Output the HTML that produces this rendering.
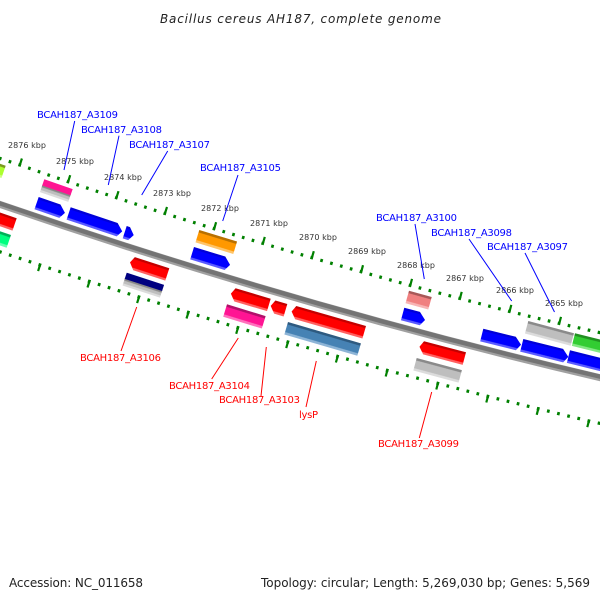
<!DOCTYPE html>
<html><head><meta charset="utf-8"><style>
html,body{margin:0;padding:0;background:#fff}
svg{display:block}
text{font-family:"DejaVu Sans","Liberation Sans",sans-serif}
.b{font-size:10px;fill:#00f}.r{font-size:10px;fill:#f00}.k{font-size:8px;fill:#333}
.t{stroke:#008000;stroke-width:2.2;fill:none}
.d{stroke:#008000;stroke-width:3.2;fill:none;stroke-dasharray:.26 .74;stroke-dashoffset:.13}
</style></head><body>
<svg width="600" height="600" viewBox="0 0 600 600" xmlns="http://www.w3.org/2000/svg">
<defs>
<linearGradient id="blue" x1="0" y1="0" x2="0" y2="1"><stop offset=".15" stop-color="#0000d8"/><stop offset=".2" stop-color="#00f"/><stop offset=".8" stop-color="#00f"/><stop offset=".85" stop-color="#5a5aff"/></linearGradient>
<linearGradient id="red" x1="0" y1="0" x2="0" y2="1"><stop offset=".15" stop-color="#c40000"/><stop offset=".2" stop-color="#f00"/><stop offset=".8" stop-color="#f00"/><stop offset=".85" stop-color="#ff6060"/></linearGradient>
<linearGradient id="orange" x1="0" y1="0" x2="0" y2="1"><stop offset=".17" stop-color="#b87000"/><stop offset=".22" stop-color="#ff9800"/><stop offset=".78" stop-color="#ff9800"/><stop offset=".83" stop-color="#ffc468"/></linearGradient>
<linearGradient id="pink" x1="0" y1="0" x2="0" y2="1"><stop offset=".17" stop-color="#b0106a"/><stop offset=".22" stop-color="#ff1493"/><stop offset=".78" stop-color="#ff1493"/><stop offset=".83" stop-color="#ff70bc"/></linearGradient>
<linearGradient id="gray" x1="0" y1="0" x2="0" y2="1"><stop offset=".17" stop-color="#8a8a8a"/><stop offset=".22" stop-color="#bebebe"/><stop offset=".78" stop-color="#bebebe"/><stop offset=".83" stop-color="#dcdcdc"/></linearGradient>
<linearGradient id="gray2" x1="0" y1="0" x2="0" y2="1"><stop offset="0" stop-color="#808080"/><stop offset=".3" stop-color="#8a8a8a"/><stop offset=".4" stop-color="#bebebe"/><stop offset=".68" stop-color="#bebebe"/><stop offset=".75" stop-color="#dcdcdc"/></linearGradient>
<linearGradient id="steel" x1="0" y1="0" x2="0" y2="1"><stop offset=".17" stop-color="#2e5a80"/><stop offset=".22" stop-color="#4682b4"/><stop offset=".78" stop-color="#4682b4"/><stop offset=".83" stop-color="#8db4d6"/></linearGradient>
<linearGradient id="salmon" x1="0" y1="0" x2="0" y2="1"><stop offset=".17" stop-color="#a85858"/><stop offset=".22" stop-color="#f08080"/><stop offset=".78" stop-color="#f08080"/><stop offset=".83" stop-color="#f8b4b4"/></linearGradient>
<linearGradient id="green" x1="0" y1="0" x2="0" y2="1"><stop offset=".17" stop-color="#209020"/><stop offset=".22" stop-color="#32cd32"/><stop offset=".78" stop-color="#32cd32"/><stop offset=".83" stop-color="#84e884"/></linearGradient>
<linearGradient id="spring" x1="0" y1="0" x2="0" y2="1"><stop offset=".17" stop-color="#00b058"/><stop offset=".22" stop-color="#00ff7f"/><stop offset=".78" stop-color="#00ff7f"/><stop offset=".83" stop-color="#66ffb2"/></linearGradient>
<linearGradient id="yg" x1="0" y1="0" x2="0" y2="1"><stop offset=".17" stop-color="#7a9a20"/><stop offset=".22" stop-color="#adff2f"/><stop offset=".78" stop-color="#adff2f"/><stop offset=".83" stop-color="#ccff80"/></linearGradient>
</defs>

<text x="160" y="23" textLength="281" lengthAdjust="spacing" style="font-size:12px;font-style:italic;fill:#222">Bacillus cereus AH187, complete genome</text>

<!-- axis -->
<path d="M-10,201 Q300,308 610,380" fill="none" stroke="#a0a0a0" stroke-width="7"/>
<path d="M-10,200 Q300,307 610,379" fill="none" stroke="#747474" stroke-width="4.4"/>

<!-- outer dots -->
<g class="d">
<path pathLength="5" d="M-29,148.7L19.7,165"/>
<path pathLength="5" d="M19.7,165L68,181.7"/>
<path pathLength="5" d="M68,181.7L116.3,197.7"/>
<path pathLength="5" d="M116.3,197.7L164.8,213.5"/>
<path pathLength="5" d="M164.8,213.5L214,228.7"/>
<path pathLength="5" d="M214,228.7L262.7,243.4"/>
<path pathLength="5" d="M262.7,243.4L311.7,257.7"/>
<path pathLength="5" d="M311.7,257.7L361,271.7"/>
<path pathLength="5" d="M361,271.7L410,285.4"/>
<path pathLength="5" d="M410,285.4L459.7,298.4"/>
<path pathLength="5" d="M459.7,298.4L509.3,311.4"/>
<path pathLength="5" d="M509.3,311.4L559,323.4"/>
<path pathLength="5" d="M559,323.4L609,334.7"/>
</g>
<path class="t" d="M21.9,158.5l-2.4,7.6M70.2,175.2l-2.4,7.6M118.5,191.2l-2.4,7.6M167,207l-2.4,7.6M216.1,222.2l-2.2,7.6M264.8,236.9l-2.2,7.6M313.8,251.2l-2.2,7.6M363,265.2l-2,7.6M412,278.9l-2,7.6M461.7,291.9l-2,7.6M511.3,304.9l-2,7.6M561,316.9l-2,7.6"/>

<!-- inner dots -->
<g class="d">
<path pathLength="5" d="M-9.5,248.7L39.8,265"/>
<path pathLength="5" d="M39.8,265L89.2,281.4"/>
<path pathLength="5" d="M89.2,281.4L138.8,297"/>
<path pathLength="5" d="M138.8,297L188.2,312.4"/>
<path pathLength="5" d="M188.2,312.4L237.8,327.7"/>
<path pathLength="5" d="M237.8,327.7L287.8,342"/>
<path pathLength="5" d="M287.8,342L337.5,356.4"/>
<path pathLength="5" d="M337.5,356.4L387.2,370.4"/>
<path pathLength="5" d="M387.2,370.4L437.8,383.4"/>
<path pathLength="5" d="M437.8,383.4L487.8,396.4"/>
<path pathLength="5" d="M487.8,396.4L538.2,408.7"/>
<path pathLength="5" d="M538.2,408.7L588.8,421"/>
<path pathLength="5" d="M588.8,421L640,432"/>
</g>
<path class="t" d="M40.5,263.5l-2.4,7.6M89.9,279.9l-2.4,7.6M139.5,295.5l-2.4,7.6M188.9,310.9l-2.4,7.6M238.4,326.2l-2.2,7.6M288.4,340.5l-2.2,7.6M338.1,354.9l-2.2,7.6M387.7,368.9l-2,7.6M438.3,381.9l-2,7.6M488.3,394.9l-2,7.6M538.7,407.2l-2,7.6M589.3,419.5l-2,7.6"/>

<!-- forward genes -->
<g transform="translate(44.3,179.3) rotate(19)"><rect x="0" y="5.5" width="30" height="8" fill="url(#gray2)"/><rect width="30" height="6.5" fill="#ff1493"/></g>
<polygon transform="translate(38.7,197) rotate(19)" points="0,0 23,0 30,6.5 26.3,13 0,13" fill="url(#blue)"/>
<polygon transform="translate(70.7,207.3) rotate(18.5)" points="0,0 49.5,0 56.5,6.5 52.8,13 0,13" fill="url(#blue)"/>
<polygon transform="translate(126.7,226) rotate(18)" points="0,0 3.5,0 9.5,6.5 5.8,13 0,13" fill="url(#blue)"/>
<polygon transform="translate(199.3,230) rotate(17)" points="0,0 39.5,0 39.5,13 0,13" fill="url(#orange)"/>
<polygon transform="translate(194,247) rotate(17)" points="0,0 32.7,0 39.7,6.5 36,13 0,13" fill="url(#blue)"/>
<polygon transform="translate(409,290.7) rotate(15.5)" points="0,0 23.6,0 23.6,13 0,13" fill="url(#salmon)"/>
<polygon transform="translate(404.3,307.7) rotate(15)" points="0,0 16.2,0 23.2,6.5 19.5,13 0,13" fill="url(#blue)"/>
<polygon transform="translate(483.3,328.7) rotate(14)" points="0,0 33.5,0 40.5,6.5 36.8,13 0,13" fill="url(#blue)"/>
<polygon transform="translate(528.3,321) rotate(15)" points="0,0 47.3,0 47.3,13 0,13" fill="url(#gray)"/>
<polygon transform="translate(523.3,339) rotate(14)" points="0,0 41,0 48,6.5 44.3,13 0,13" fill="url(#blue)"/>
<polygon transform="translate(575,333.3) rotate(14)" points="0,0 40,0 40,13 0,13" fill="url(#green)"/>
<polygon transform="translate(570,350.3) rotate(14)" points="0,0 45,0 45,13 0,13" fill="url(#blue)"/>
<polygon transform="translate(5.7,165.7) rotate(19)" points="-30,0 0,0 0,13 -30,13" fill="url(#yg)"/>

<!-- reverse genes -->
<polygon transform="translate(16.7,218.3) rotate(19)" points="-30,0 0,0 0,13 -30,13" fill="url(#red)"/>
<polygon transform="translate(11,235) rotate(19)" points="-30,0 0,0 0,13.5 -30,13.5" fill="url(#spring)"/>
<polygon transform="translate(169.3,268.3) rotate(18)" points="-36.2,0 0,0 0,13 -33.7,13 -39.2,6.5" fill="url(#red)"/>
<g transform="translate(126.7,272.7) rotate(18)"><rect x="0" y="5.5" width="39.3" height="8" fill="url(#gray2)"/><rect width="39.3" height="6.5" fill="#000080"/></g>
<polygon transform="translate(270.7,298.7) rotate(16.5)" points="-36.6,0 0,0 0,13 -34.1,13 -39.6,6.5" fill="url(#red)"/>
<polygon transform="translate(287.3,304) rotate(16.5)" points="-12.4,0 0,0 0,13 -9.9,13 -15.4,6.5" fill="url(#red)"/>
<polygon transform="translate(227,304.3) rotate(17)" points="0,0 40.4,0 40.4,13 0,13" fill="url(#pink)"/>
<polygon transform="translate(366,326) rotate(16)" points="-72.5,0 0,0 0,13 -70,13 -75.5,6.5" fill="url(#red)"/>
<polygon transform="translate(288,322) rotate(16.3)" points="0,0 76,0 76,13 0,13" fill="url(#steel)"/>
<polygon transform="translate(466,352.3) rotate(14.8)" points="-43.4,0 0,0 0,13 -40.9,13 -46.4,6.5" fill="url(#red)"/>
<polygon transform="translate(416.7,358) rotate(15)" points="0,0 46.8,0 46.8,13 0,13" fill="url(#gray)"/>

<!-- kbp labels -->
<text class="k" x="8" y="148" textLength="38">2876 kbp</text>
<text class="k" x="56" y="164" textLength="38">2875 kbp</text>
<text class="k" x="104" y="180" textLength="38">2874 kbp</text>
<text class="k" x="153" y="196" textLength="38">2873 kbp</text>
<text class="k" x="201" y="211" textLength="38">2872 kbp</text>
<text class="k" x="250" y="226" textLength="38">2871 kbp</text>
<text class="k" x="299" y="240" textLength="38">2870 kbp</text>
<text class="k" x="348" y="254" textLength="38">2869 kbp</text>
<text class="k" x="397" y="268" textLength="38">2868 kbp</text>
<text class="k" x="446" y="281" textLength="38">2867 kbp</text>
<text class="k" x="496" y="293" textLength="38">2866 kbp</text>
<text class="k" x="545" y="306" textLength="38">2865 kbp</text>

<!-- connectors -->
<g stroke="#00f" stroke-width="1" fill="none">
<path d="M74.7,121L64,170M119,135.7L108.3,185M167.7,151L141.7,195M238,175L222.7,221M415,224L424.3,279M469,239L511.7,301M525,253L554.5,312"/>
</g>
<g stroke="#f00" stroke-width="1" fill="none">
<path d="M136.7,307L121,351M238.3,338L211.7,379M266.3,347L261,396M316.3,361L306,407M431.7,392L419.3,438"/>
</g>

<!-- gene labels -->
<text class="b" x="37" y="118" textLength="81">BCAH187_A3109</text>
<text class="b" x="81" y="133" textLength="81">BCAH187_A3108</text>
<text class="b" x="129" y="148" textLength="81">BCAH187_A3107</text>
<text class="b" x="200" y="171" textLength="81">BCAH187_A3105</text>
<text class="b" x="376" y="221" textLength="81">BCAH187_A3100</text>
<text class="b" x="431" y="236" textLength="81">BCAH187_A3098</text>
<text class="b" x="487" y="250" textLength="81">BCAH187_A3097</text>
<text class="r" x="80" y="361" textLength="81">BCAH187_A3106</text>
<text class="r" x="169" y="389" textLength="81">BCAH187_A3104</text>
<text class="r" x="219" y="403" textLength="81">BCAH187_A3103</text>
<text class="r" x="299" y="418" textLength="19">lysP</text>
<text class="r" x="378" y="447" textLength="81">BCAH187_A3099</text>

<text x="9" y="587" textLength="134" style="font-size:12px;fill:#222">Accession: NC_011658</text>
<text x="261" y="587" textLength="329" style="font-size:12px;fill:#222">Topology: circular; Length: 5,269,030 bp; Genes: 5,569</text>
</svg>
</body></html>
